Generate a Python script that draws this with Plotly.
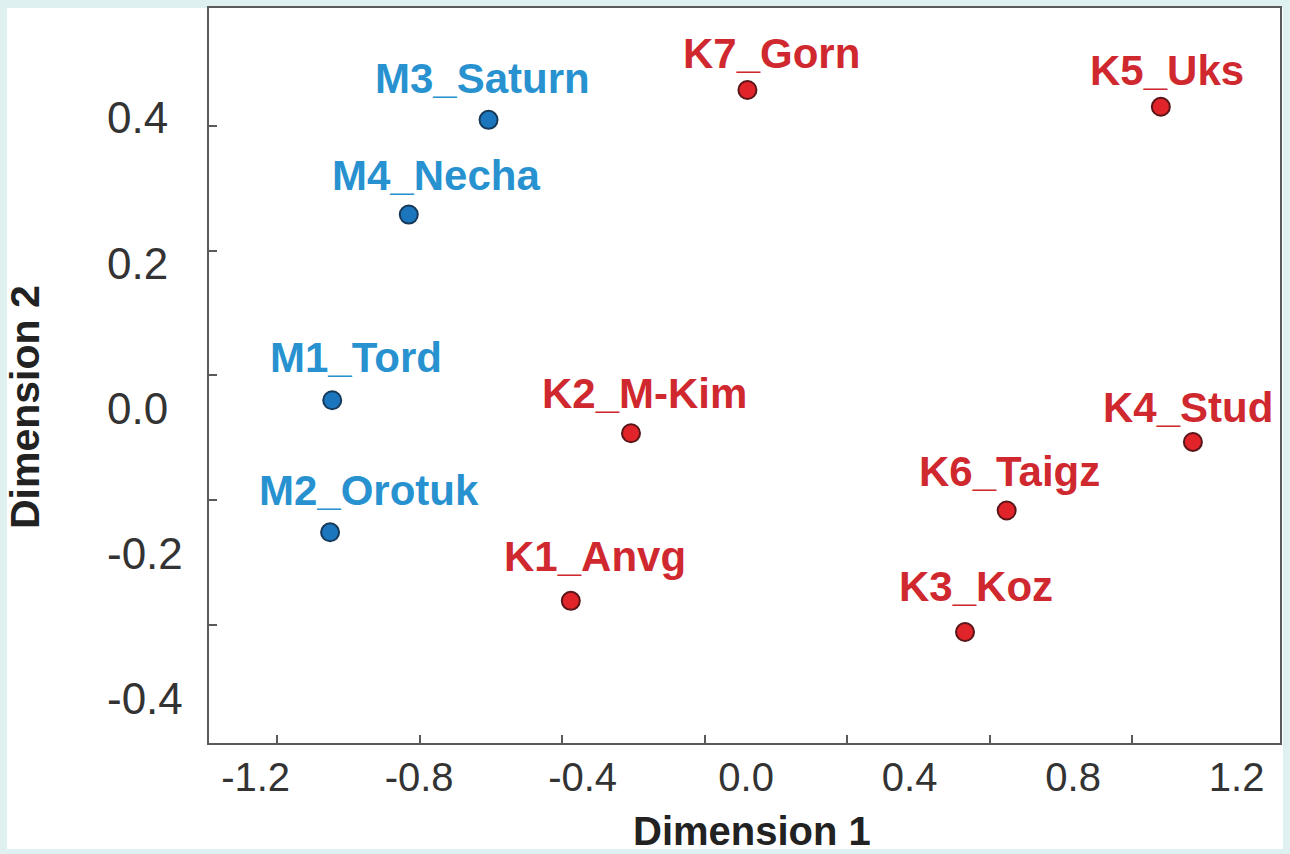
import plotly.graph_objects as go

# ---------------- data ----------------
names_M = ["M1_Tord", "M2_Orotuk", "M3_Saturn", "M4_Necha"]
dim1_M = [-1.046, -1.052, -0.607, -0.831]
dim2_M = [-0.040, -0.252, 0.410, 0.258]

names_K = ["K1_Anvg", "K2_M-Kim", "K3_Koz", "K4_Stud", "K5_Uks", "K6_Taigz", "K7_Gorn"]
dim1_K = [-0.376, -0.207, 0.731, 1.371, 1.281, 0.848, 0.120]
dim2_K = [-0.362, -0.093, -0.412, -0.107, 0.431, -0.217, 0.458]

tick_vals_x = [-1.2, -0.8, -0.4, 0.0, 0.4, 0.8, 1.2]
tick_text_x = ["-1.2", "-0.8", "-0.4", "0.0", "0.4", "0.8", "1.2"]
tick_vals_y = [-0.4, -0.2, 0.0, 0.2, 0.4]
tick_text_y = ["-0.4", "-0.2", "0.0", "0.2", "0.4"]

# ---------------- styles ----------------
W, H = 1290, 854
ML, MR, MT, MB = 0, 10, 8, 111
PW = W - ML - MR
PH = H - MT - MB
X_DOMAIN_START = 209.3 / PW

BLUE_FILL, BLUE_LINE, BLUE_TEXT = "#1b76bd", "#173a5a", "#2792cf"
RED_FILL, RED_LINE, RED_TEXT = "#e0242a", "#5a1518", "#d0282f"
FONT = "Liberation Sans, Arial, sans-serif"
AXIS_COLOR = "#5a5a5a"
BG_OUTER = "#dff0f0"

# label offsets in pixels (dx, dy) relative to each marker
label_off = {
    "M1_Tord": (24, 43), "M2_Orotuk": (39, 42), "M3_Saturn": (-6, 41), "M4_Necha": (27, 39),
    "K1_Anvg": (24, 44), "K2_M-Kim": (14, 40), "K3_Koz": (11, 45), "K4_Stud": (-5, 34),
    "K5_Uks": (6, 36), "K6_Taigz": (3, 39), "K7_Gorn": (24, 36),
}

fig = go.Figure()

fig.add_trace(go.Scatter(
    x=dim1_M, y=dim2_M, mode="markers", name="M",
    marker=dict(size=18, color=BLUE_FILL, line=dict(color=BLUE_LINE, width=2)),
    showlegend=False, hoverinfo="text", text=names_M,
))
fig.add_trace(go.Scatter(
    x=dim1_K, y=dim2_K, mode="markers", name="K",
    marker=dict(size=18, color=RED_FILL, line=dict(color=RED_LINE, width=2)),
    showlegend=False, hoverinfo="text", text=names_K,
))
# dummy trace for overlay label axes
fig.add_trace(go.Scatter(x=[None], y=[None], xaxis="x2", yaxis="y2",
                         showlegend=False, hoverinfo="skip", mode="markers"))

annotations = []
for names, xs, ys, col in [(names_M, dim1_M, dim2_M, BLUE_TEXT), (names_K, dim1_K, dim2_K, RED_TEXT)]:
    for n, xv, yv in zip(names, xs, ys):
        dx, dy = label_off[n]
        annotations.append(dict(
            x=xv, y=yv, xref="x", yref="y", text=n, showarrow=False,
            xshift=dx, yshift=dy, xanchor="center", yanchor="middle",
            font=dict(family=FONT, size=42, color=col, weight="bold"),
        ))

# axis titles
annotations.append(dict(
    x=752 / PW, y=(PH + MT - 831) / PH, xref="paper", yref="paper", text="Dimension 1",
    showarrow=False, xanchor="center", yanchor="middle",
    font=dict(family=FONT, size=40, color="#222222", weight="bold"),
))
annotations.append(dict(
    x=25 / PW, y=(PH + MT - 407) / PH, xref="paper", yref="paper", text="Dimension 2",
    showarrow=False, xanchor="center", yanchor="middle", textangle=-90,
    font=dict(family=FONT, size=41, color="#222222", weight="bold"),
))

# tick-mark scale (px): x0 at 704.7, 356.1 px/unit; y0 at 375.3, 623 px/unit
x_range = [(209.3 - 704.7) / 356.1, (ML + PW - 704.7) / 356.1]
y_range = [(375.3 - (MT + PH)) / 623.0, (375.3 - MT) / 623.0]
# tick-label scale (px): x0 at 746.1, 408.75 px/unit; y0 at 408.4, 726.5 px/unit
x2_range = [(209.3 - 746.1) / 408.75, (ML + PW - 746.1) / 408.75]
y2_range = [(408.4 - (MT + PH)) / 726.5, (408.4 - MT) / 726.5]

fig.update_layout(
    width=W, height=H,
    margin=dict(l=ML, r=MR, t=MT, b=MB, pad=0),
    paper_bgcolor=BG_OUTER, plot_bgcolor="white",
    font=dict(family=FONT, color="#333333"),
    annotations=annotations,
    shapes=[dict(type="rect", xref="paper", yref="paper",
                 x0=7 / PW, x1=(PW + 3) / PW, y0=(PH + MT - 849) / PH, y1=1,
                 fillcolor="white", line=dict(width=0), layer="below")],
    xaxis=dict(domain=[X_DOMAIN_START, 1], range=x_range, tickvals=tick_vals_x,
               showticklabels=False, ticks="inside", ticklen=8, tickwidth=1.5, tickcolor=AXIS_COLOR,
               showline=True, linecolor=AXIS_COLOR, linewidth=2, mirror=True,
               showgrid=False, zeroline=False),
    yaxis=dict(domain=[0, 1], range=y_range, tickvals=tick_vals_y,
               showticklabels=False, ticks="inside", ticklen=8, tickwidth=1.5, tickcolor=AXIS_COLOR,
               showline=True, linecolor=AXIS_COLOR, linewidth=2, mirror=True,
               showgrid=False, zeroline=False),
    xaxis2=dict(overlaying="x", anchor="y", side="bottom", range=x2_range,
                tickvals=tick_vals_x, ticktext=tick_text_x, ticks="", showline=False,
                showgrid=False, zeroline=False, ticklabelstandoff=7,
                tickfont=dict(family=FONT, size=40, color="#333333")),
    yaxis2=dict(overlaying="y", anchor="free", side="right", position=106 / PW, range=y2_range,
                tickvals=tick_vals_y, ticktext=tick_text_y, ticks="", showline=False,
                showgrid=False, zeroline=False,
                tickfont=dict(family=FONT, size=44, color="#333333")),
)

fig.write_html("out.html")
